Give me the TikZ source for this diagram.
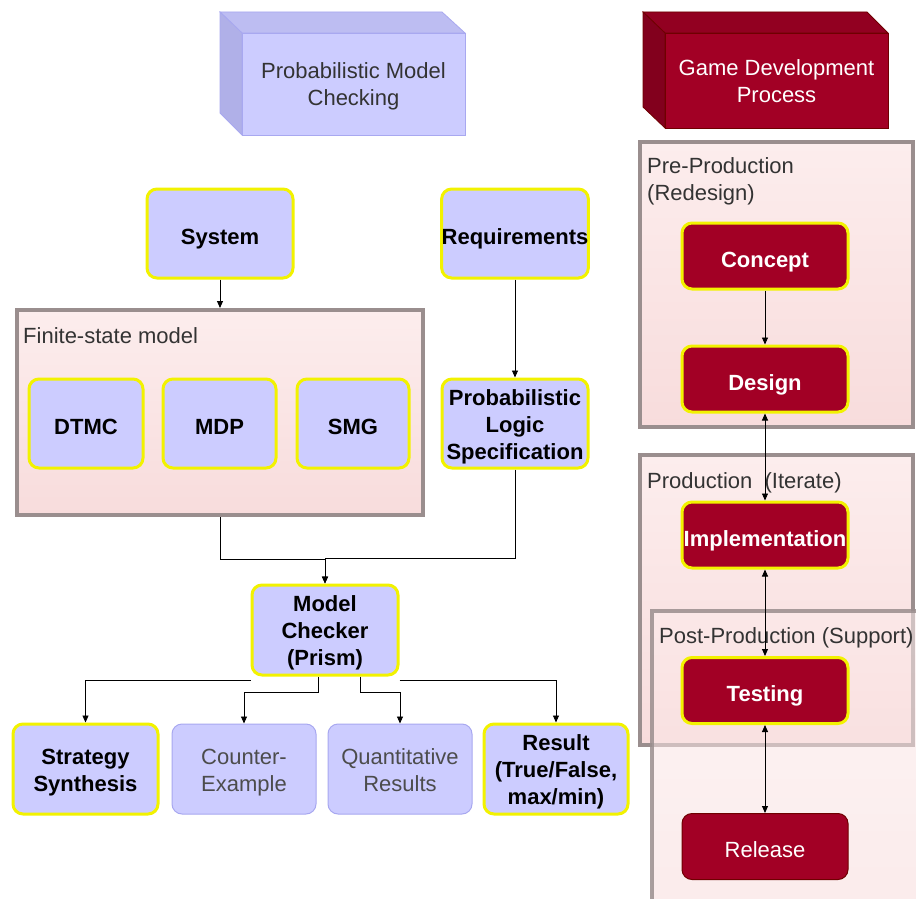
\documentclass[tikz,border=0pt]{standalone}
\usepackage{fontspec}
\setmainfont{Liberation Sans}
\usetikzlibrary{arrows.meta,calc}
\definecolor{lav}{HTML}{CCCCFF}
\definecolor{lavtop}{HTML}{BDBDF2}
\definecolor{lavside}{HTML}{B0B0E8}
\definecolor{lavedge}{HTML}{A8A8F0}
\definecolor{yel}{HTML}{F2F200}
\definecolor{wine}{HTML}{A20025}
\definecolor{winetop}{HTML}{920021}
\definecolor{wineside}{HTML}{82001D}
\definecolor{darkwine}{HTML}{6F0000}
\definecolor{contedge}{HTML}{9A8E8E}
\definecolor{pinktop}{HTML}{FCEDED}
\definecolor{pinkbot}{HTML}{F8DCDC}
\definecolor{txtgray}{HTML}{333333}
\newcommand{\myTop}{\rule{0pt}{27.8pt}}
\newcommand{\myTopM}{\rule{0pt}{22pt}}
\newcommand{\myBot}{\rule[-5pt]{0pt}{5pt}}
\begin{document}
\begin{tikzpicture}[x=1pt,y=-1pt,
  fnt/.style={font=\fontsize{22}{27}\selectfont},
  bfnt/.style={font=\fontsize{22}{27}\selectfont\bfseries},
  vc/.style={execute at begin node={\myTop}, execute at end node={\myBot}},
  base/.style={align=center, inner sep=0pt, rounded corners=10pt},
  lavbox/.style={base, bfnt, fill=lav, draw=yel, line width=3pt, text=black},
  lavplain/.style={base, fnt, fill=lav, draw=lavedge, line width=1pt, text=black!70},
  redbox/.style={base, vc, bfnt, fill=wine, draw=yel, line width=3pt, text=white, minimum width=166pt, minimum height=66pt},
  redplain/.style={base, vc, fnt, fill=wine, draw=darkwine, line width=1pt, text=white, minimum width=166pt, minimum height=66pt},
  cont/.style={draw=contedge, line width=4pt, top color=pinktop, bottom color=pinkbot, inner sep=0pt},
  ctitle/.style={fnt, text=txtgray, inner sep=0pt, anchor=north west, align=left},
  arr/.style={-{Triangle[length=7pt,width=6pt]}, line width=0.9pt},
  biarr/.style={{Triangle[length=7pt,width=6pt]}-{Triangle[length=7pt,width=6pt]}, line width=0.9pt},
  w146/.style={minimum width=146pt, minimum height=89pt}
]
\useasboundingbox (0,0) rectangle (916,899);
\fill[white] (0,0) rectangle (916,899);

% ---- 3D header boxes
\fill[lavtop, draw=lavedge, line width=0.8pt] (220,12) -- (442,12) -- (465,33) -- (242,33) -- cycle;
\fill[lavside, draw=lavedge, line width=0.8pt] (220,12) -- (242,33) -- (242,135) -- (220,113) -- cycle;
\node[fnt, fill=lav, draw=lavedge, line width=0.8pt, text=txtgray, align=center, inner sep=0pt,
      minimum width=223pt, minimum height=102pt] (pmc) at (353.5,84) {\myTopM Probabilistic Model\\Checking\myBot};

\fill[winetop, draw=darkwine, line width=0.8pt] (643,12) -- (867,12) -- (888,33) -- (665,33) -- cycle;
\fill[wineside, draw=darkwine, line width=0.8pt] (643,12) -- (665,33) -- (665,128) -- (643,107) -- cycle;
\node[fnt, fill=wine, draw=darkwine, line width=0.8pt, text=white, align=center, inner sep=0pt,
      minimum width=223pt, minimum height=95pt] (gdp) at (776.5,80.5) {\myTopM Game Development\\Process\myBot};

% ---- containers (right)
\node[cont, minimum width=273pt, minimum height=285pt] (pre) at (776.5,284.5) {};
\node[cont, minimum width=273pt, minimum height=290pt] (prod) at (776.5,600) {};
\node[draw=contedge, line width=4pt, top color=pinktop, bottom color=pinkbot, fill opacity=0.55, draw opacity=0.85,
      inner sep=0pt, minimum width=273pt, minimum height=299pt] (post) at (788.5,760.5) {};
\node[ctitle] (pretitle) at (647,157) {Pre-Production\\(Redesign)};
\node[ctitle] (prodtitle) at (647,472) {Production\ \ (Iterate)};
\node[ctitle] (posttitle) at (659,627) {Post-Production (Support)};

% ---- container (left)
\node[cont, minimum width=406pt, minimum height=205pt] (fsm) at (220,412.5) {};
\node[ctitle] (fsmtitle) at (23,327) {Finite-state model};

% ---- left nodes
\node[lavbox, vc, w146] (sys) at (220,233.5) {System};
\node[lavbox, vc, w146] (req) at (515,233.5) {Requirements};
\node[lavbox, vc, minimum width=114pt, minimum height=89pt] (dtmc) at (86,423.5) {DTMC};
\node[lavbox, vc, minimum width=113pt, minimum height=89pt] (mdp) at (219.5,423.5) {MDP};
\node[lavbox, vc, minimum width=112pt, minimum height=89pt] (smg) at (353,423.5) {SMG};
\node[lavbox, w146] (pls) at (515,423.5) {\myTopM Probabilistic\\Logic\\Specification\myBot};
\node[lavbox, minimum width=146pt, minimum height=90pt] (mc) at (325,630) {\myTopM Model\\Checker\\(Prism)\myBot};
\node[lavbox, minimum width=145pt, minimum height=90pt] (strat) at (85.5,769) {\myTopM Strategy\\Synthesis\myBot};
\node[lavplain, minimum width=144pt, minimum height=90pt] (cex) at (244,769) {\myTopM Counter-\\Example\myBot};
\node[lavplain, minimum width=144pt, minimum height=90pt] (quant) at (400,769) {\myTopM Quantitative\\Results\myBot};
\node[lavbox, minimum width=144pt, minimum height=90pt] (res) at (556,769) {\myTopM Result\\(True/False,\\max/min)\myBot};

% ---- right nodes
\node[redbox] (concept) at (765,256) {Concept};
\node[redbox] (design) at (765,379) {Design};
\node[redbox] (impl) at (765,535) {Implementation};
\node[redbox] (test) at (765,690.5) {Testing};
\node[redplain] (rel) at (765,846.5) {Release};

% ---- connectors left
\draw[arr] (sys) -- (fsm);
\draw[arr] (req) -- (pls);
\draw[arr] (fsm.south) -- ++(0,42) -| (mc.north);
\draw[arr] (pls.south) -- ++(0,89) -| (mc.north);
\draw[arr] ([yshift=-4pt]mc.south west) -| (strat.north);
\draw[arr] ([xshift=-7pt]mc.south) -- ++(0,16) -| (cex.north);
\draw[arr] ([xshift=35pt]mc.south) -- ++(0,16) -| (quant.north);
\draw[arr] ([yshift=-4pt]mc.south east) -| (res.north);

% ---- connectors right
\draw[arr] (concept) -- (design);
\draw[biarr] (design) -- (impl);
\draw[biarr] (impl) -- (test);
\draw[biarr] (test) -- (rel);
\end{tikzpicture}
\end{document}
